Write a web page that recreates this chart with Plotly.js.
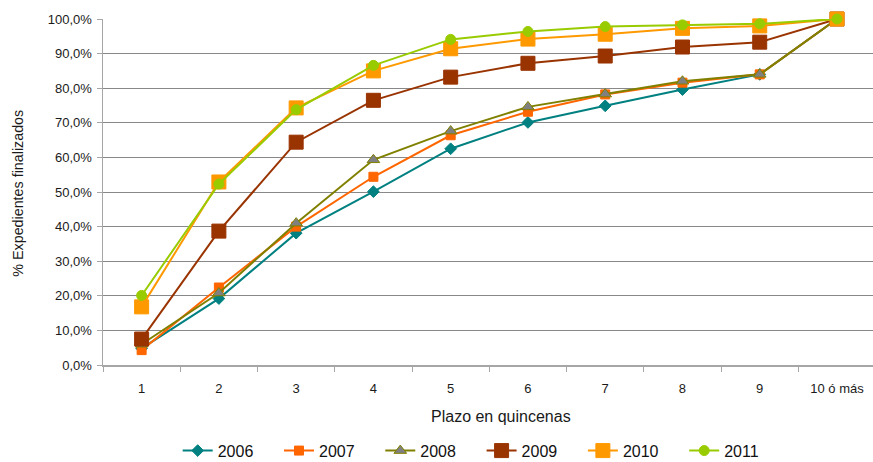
<!DOCTYPE html>
<html>
<head>
<meta charset="utf-8">
<script src="https://cdn.plot.ly/plotly-3.0.1.min.js"></script>
<style>
html,body{margin:0;padding:0;background:#fff;overflow:hidden;}
#chart{width:873px;height:462px;}
</style>
</head>
<body>
<div id="chart"></div>
<script>
var categories = ["1","2","3","4","5","6","7","8","9","10 ó más"];
var seriesNames = ["2006","2007","2008","2009","2010","2011"];
var v2006 = [4.8, 19.2, 38.1, 50.1, 62.5, 70.1, 74.9, 79.6, 84.0, 100];
var v2007 = [4.3, 22.4, 40.0, 54.4, 66.4, 73.2, 78.2, 81.6, 84.0, 100];
var v2008 = [6.0, 20.8, 41.0, 59.3, 67.6, 74.6, 78.3, 82.0, 84.0, 100];
var v2009 = [7.5, 38.7, 64.4, 76.5, 83.2, 87.2, 89.3, 91.9, 93.3, 100];
var v2010 = [16.8, 52.9, 74.3, 85.0, 91.4, 94.2, 95.6, 97.3, 98.0, 100];
var v2011 = [20.1, 52.3, 73.8, 86.6, 94.1, 96.4, 97.8, 98.3, 98.6, 100];
var xTitle = "Plazo en quincenas";
var yTitle = "% Expedientes finalizados";

var values = [v2006, v2007, v2008, v2009, v2010, v2011];
var lineColors = ["#008080", "#FF6600", "#808000", "#993300", "#FF9900", "#99CC00"];
var markerSymbols = ["diamond", "square", "triangle-up", "square", "square", "circle"];
var markerSizes = [9, 9, 11, 14, 14, 10];
var markerColors = ["#008080", "#FF6600", "#808080", "#993300", "#FF9900", "#99CC00"];
var markerLineColors = ["#008080", "#FF6600", "#808000", "#993300", "#FF9900", "#99CC00"];

var traces = seriesNames.map(function(name, i){
  return {
    type: "scatter",
    mode: "lines+markers",
    name: name,
    x: categories,
    y: values[i],
    line: {color: lineColors[i], width: 2},
    marker: {symbol: markerSymbols[i], size: markerSizes[i], color: markerColors[i],
             line: {color: markerLineColors[i], width: 1}},
    cliponaxis: false
  };
});

var FAM = "Liberation Sans, Arial, sans-serif";

var layout = {
  width: 873, height: 462,
  margin: {l: 103, r: 0, t: 19, b: 97},
  paper_bgcolor: "#fff", plot_bgcolor: "#fff",
  font: {family: FAM, size: 13, color: "#1a1a1a"},
  separators: ", ",
  showlegend: true,
  legend: {orientation: "h", xref: "paper", x: 0.097, xanchor: "left",
           yref: "container", y: 0.0245, yanchor: "middle",
           font: {family: FAM, size: 16, color: "#111"},
           traceorder: "normal", entrywidth: 56.3, entrywidthmode: "pixels",
           tracegroupgap: 0},
  xaxis: {
    type: "category",
    range: [-0.5, 9.466],
    showgrid: false,
    showline: true, linecolor: "#a6a6a6", linewidth: 1.5,
    ticks: "outside", tickson: "boundaries", ticklen: 5, tickcolor: "#a6a6a6",
    ticklabelstandoff: 11,
    tickfont: {family: FAM, size: 13, color: "#1a1a1a"},
    zeroline: false, fixedrange: true, automargin: false
  },
  yaxis: {
    range: [0, 100],
    dtick: 10, tick0: 0,
    tickformat: ".1f", ticksuffix: "%",
    showgrid: true, gridcolor: "#888888", gridwidth: 1,
    showline: true, linecolor: "#a6a6a6", linewidth: 1.5,
    ticks: "outside", ticklen: 5, tickcolor: "#a6a6a6",
    ticklabelstandoff: 2,
    tickfont: {family: FAM, size: 13, color: "#1a1a1a"},
    zeroline: false, fixedrange: true, automargin: false
  },
  annotations: [
    {text: xTitle, xref: "paper", yref: "paper", x: 0.517, y: -0.1494,
     xanchor: "center", yanchor: "middle", showarrow: false,
     font: {family: FAM, size: 16, color: "#1a1a1a"}},
    {text: yTitle, xref: "paper", yref: "paper", x: -0.110, y: 0.496,
     xanchor: "center", yanchor: "middle", showarrow: false, textangle: -90,
     font: {family: FAM, size: 14.3, color: "#1a1a1a"}}
  ]
};

Plotly.newPlot("chart", traces, layout, {displayModeBar: false, staticPlot: true});
</script>
</body>
</html>
